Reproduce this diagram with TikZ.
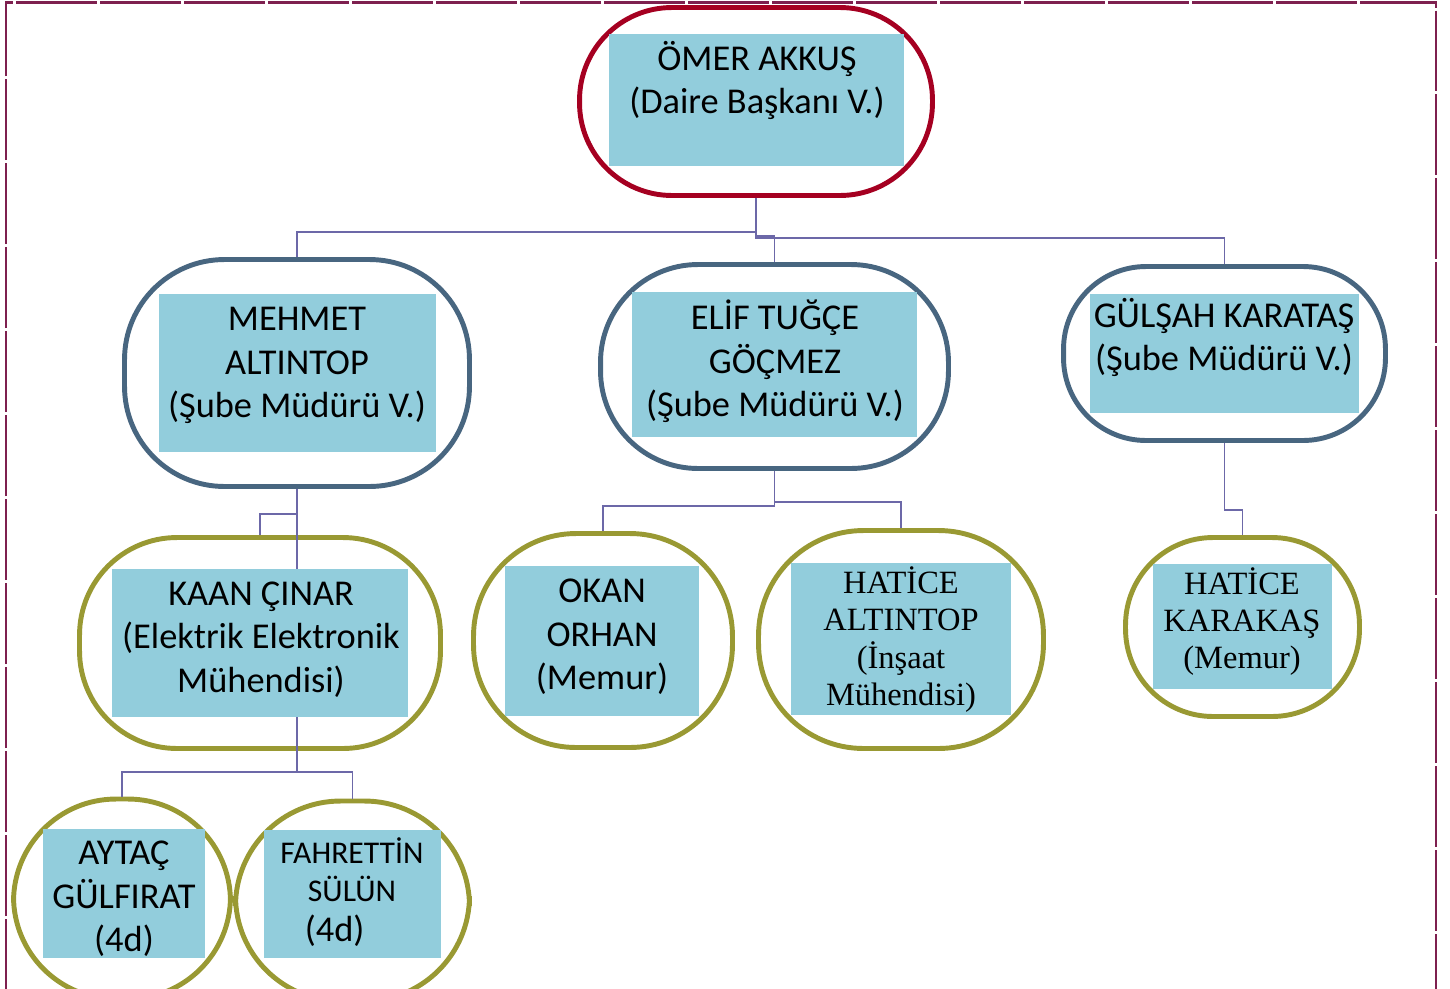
\documentclass[tikz,border=0pt]{standalone}
\usepackage{fontspec}
\setmainfont{Carlito}
\newfontfamily\timesfont{Liberation Serif}
\usetikzlibrary{calc}
\definecolor{framered}{RGB}{126,32,79}
\definecolor{bossred}{RGB}{165,0,33}
\definecolor{chiefslate}{RGB}{72,102,128}
\definecolor{staffolive}{RGB}{153,153,51}
\definecolor{namefill}{RGB}{146,205,220}
\definecolor{linkpurple}{RGB}{108,104,168}

\begin{document}
\begin{tikzpicture}[x=0.02cm,y=-0.02cm,
  outline/.style={draw=#1,line width=2.8pt,inner sep=0pt},
  namebox/.style={fill=namefill,inner sep=0pt},
  nametxt/.style={align=center,inner sep=0pt,text=black,
               font=\fontsize{20.7}{24.7}\selectfont},
  tnametxt/.style={align=center,inner sep=0pt,text=black,
                font=\timesfont\fontsize{18.5}{21.3}\selectfont},
  link/.style={draw=linkpurple,line width=1.1pt},
  pageframe/.style={draw=framered,line width=1.2pt,dash pattern=on 1.62cm off 0.06cm}]
\clip (0,0) rectangle (1450,988);
\draw[pageframe] (6,1000) -- (6,2.5) -- (1436,2.5) -- (1436,1000);
% director
\node[outline=bossred,minimum width=7.06cm,minimum height=3.76cm,rounded corners=1.85cm](omer) at (756,101.5) {};
\node[namebox,minimum width=5.9cm,minimum height=2.64cm](omerbox) at (756.5,100) {};
\node[nametxt](omertxt) at (757,80.5) {ÖMER AKKUŞ\\(Daire Başkanı V.)};
% branch managers
\node[outline=chiefslate,minimum width=6.9cm,minimum height=4.54cm,rounded corners=2cm](mehmet) at (297,373) {};
\node[namebox,minimum width=5.54cm,minimum height=3.16cm](mehmetbox) at (297.5,373) {};
\node[nametxt](mehmettxt) at (297,365.5) {MEHMET\\ALTINTOP\\(Şube Müdürü V.)};
\node[outline=chiefslate,minimum width=6.96cm,minimum height=4.08cm,rounded corners=1.95cm](elif) at (774.5,366.5) {};
\node[namebox,minimum width=5.7cm,minimum height=2.9cm](elifbox) at (774.5,364.5) {};
\node[nametxt](eliftxt) at (775,361.5) {ELİF TUĞÇE\\GÖÇMEZ\\(Şube Müdürü V.)};
\node[outline=chiefslate,minimum width=6.44cm,minimum height=3.48cm,rounded corners=1.65cm](gulsah) at (1224.5,353.5) {};
\node[namebox,minimum width=5.38cm,minimum height=2.38cm](gulsahbox) at (1224.5,353.5) {};
\node[nametxt](gulsahtxt) at (1224,337.5) {GÜLŞAH KARATAŞ\\(Şube Müdürü V.)};
% staff
\node[outline=staffolive,minimum width=7.22cm,minimum height=4.22cm,rounded corners=1.95cm](kaan) at (260,643) {};
\node[namebox,minimum width=5.92cm,minimum height=2.96cm](kaanbox) at (260,643) {};
\node[nametxt](kaantxt) at (261,639.5) {KAAN ÇINAR\\(Elektrik Elektronik\\Mühendisi)};
\node[outline=staffolive,minimum width=5.18cm,minimum height=4.28cm,rounded corners=2.05cm](okan) at (603,640.5) {};
\node[namebox,minimum width=3.88cm,minimum height=3cm](okanbox) at (602,641) {};
\node[nametxt](okantxt) at (602,637) {OKAN\\ORHAN\\(Memur)};
\node[outline=staffolive,minimum width=5.7cm,minimum height=4.36cm,rounded corners=2.1cm](haticea) at (901,639.5) {};
\node[namebox,minimum width=4.4cm,minimum height=3.04cm](haticeabox) at (901,639) {};
\node[tnametxt](haticeatxt) at (901,639.5) {HATİCE\\ALTINTOP\\(İnşaat\\Mühendisi)};
\node[outline=staffolive,minimum width=4.68cm,minimum height=3.58cm,rounded corners=1.75cm](haticek) at (1242.5,627) {};
\node[namebox,minimum width=3.58cm,minimum height=2.5cm](haticekbox) at (1242.5,626.5) {};
\node[tnametxt](haticektxt) at (1242,621.5) {HATİCE\\KARAKAŞ\\(Memur)};
\node[outline=staffolive,minimum width=4.34cm,minimum height=4cm,rounded corners=2.05cm](aytac) at (122,899) {};
\node[namebox,minimum width=3.24cm,minimum height=2.58cm](aytacbox) at (124,893.5) {};
\node[nametxt](aytactxt) at (124,899) {AYTAÇ\\GÜLFIRAT\\(4d)};
\node[outline=staffolive,minimum width=4.68cm,minimum height=4cm,rounded corners=2.1cm](fahrettin) at (352.5,901) {};
\node[namebox,minimum width=3.54cm,minimum height=2.56cm](fahrettinbox) at (352.5,894) {};
\node[nametxt,font=\fontsize{18}{21.5}\selectfont](fahrettintxt) at (352,892)
  {FAHRETTİN\\SÜLÜN\\[1pt]{\fontsize{20.7}{24.7}\selectfont(4d)}\hspace*{1.1em}};
% connectors
\draw[link](omer.south) -- ++(0,34) -| (mehmet.north);
\draw[link](omer.south) -- ++(0,38) -| (elif.north);
\draw[link](omer.south) -- ++(0,40) -| (gulsah.north);
\draw[link](mehmet.south) -- ++(0,25) -| (kaan.north);
\draw[link](mehmet.south) -- (mehmet.south |- kaanbox.north);
\draw[link](kaanbox.south -| mehmet.south) -- ++(0,55) -| (aytac.north);
\draw[link](kaanbox.south -| mehmet.south) -- ++(0,55) -| (fahrettin.north);
\draw[link](elif.south) -- ++(0,35) -| (okan.north);
\draw[link](elif.south) -- ++(0,31) -| (haticea.north);
\draw[link](gulsah.south) -- ++(0,67) -| (haticek.north);
\end{tikzpicture}
\end{document}
